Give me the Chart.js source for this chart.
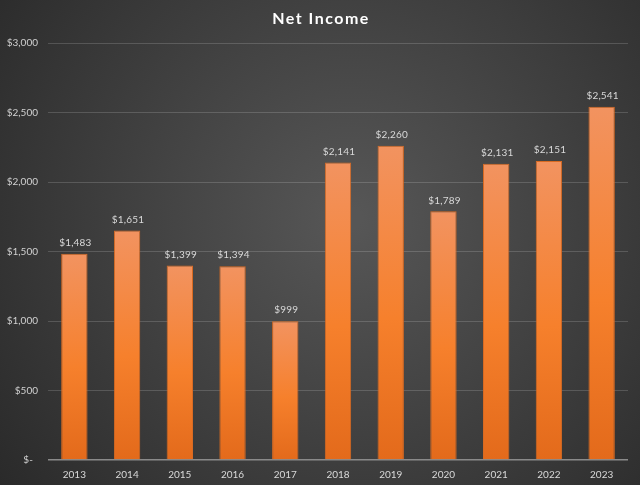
<!DOCTYPE html>
<html>
<head>
<meta charset="utf-8">
<script src="https://cdn.jsdelivr.net/npm/chart.js@4"></script>
<style>
  html, body { margin: 0; padding: 0; background: #333; }
  #wrap { width: 640px; height: 485px; }
</style>
</head>
<body>
<div id="wrap"><canvas id="netIncome"></canvas></div>
<script>
// data
var years = ['2013', '2014', '2015', '2016', '2017', '2018', '2019', '2020', '2021', '2022', '2023'];
var netIncome = [1483, 1651, 1399, 1394, 999, 2141, 2260, 1789, 2131, 2151, 2541];
var yTicks = [0, 500, 1000, 1500, 2000, 2500, 3000];

function money(v) {
    if (v === 0) return '$-  ';
    return '$' + v.toLocaleString('en-US');
}

// dark radial backdrop behind everything
var backdrop = {
    id: 'backdrop',
    beforeDraw: function(chart) {
        var ctx = chart.ctx, w = chart.width, h = chart.height;
        var g = ctx.createRadialGradient(w * 0.55, h * 0.45, 10, w * 0.55, h * 0.45, w * 0.75);
        g.addColorStop(0, '#565656');
        g.addColorStop(1, '#262626');
        ctx.save();
        ctx.fillStyle = g;
        ctx.fillRect(0, 0, w, h);
        ctx.restore();
    }
};

// title + value labels on top of bars
var labels = {
    id: 'labels',
    afterDatasetsDraw: function(chart) {
        var ctx = chart.ctx;
        ctx.save();
        ctx.fillStyle = '#ffffff';
        ctx.font = 'bold 16px Lato, "Open Sans", sans-serif';
        ctx.textAlign = 'center';
        ctx.textBaseline = 'middle';
        if ('letterSpacing' in ctx) ctx.letterSpacing = '1.5px';
        ctx.fillText('Net Income', chart.width / 2 + 1, 19);
        if ('letterSpacing' in ctx) ctx.letterSpacing = '0.2px';

        ctx.fillStyle = '#d9d9d9';
        ctx.font = '10px Lato, "Open Sans", sans-serif';
        ctx.textBaseline = 'bottom';
        chart.getDatasetMeta(0).data.forEach(function(bar, i) {
            ctx.fillText(money(netIncome[i]), bar.x + 1, bar.y - 6);
        });
        ctx.restore();
    }
};

function barFill(context) {
    var chart = context.chart;
    var y = chart.scales.y;
    if (!y || context.dataIndex === undefined) return '#f47b20';
    var top = y.getPixelForValue(netIncome[context.dataIndex]);
    var base = y.getPixelForValue(0);
    if (!isFinite(top) || !isFinite(base) || top === base) return '#f47b20';
    var g = chart.ctx.createLinearGradient(0, top, 0, base);
    g.addColorStop(0, '#f29360');
    g.addColorStop(0.55, '#f6802c');
    g.addColorStop(1, '#e36a1b');
    return g;
}

new Chart(document.getElementById('netIncome'), {
    type: 'bar',
    data: {
        labels: years,
        datasets: [{
            data: netIncome,
            backgroundColor: barFill,
            borderColor: '#d86a22',
            borderWidth: 1,
            categoryPercentage: 1,
            barPercentage: 0.5
        }]
    },
    options: {
        responsive: true,
        maintainAspectRatio: false,
        animation: false,
        layout: { padding: { top: 43, right: 12, left: 0, bottom: 0 } },
        plugins: {
            legend: { display: false },
            title: { display: false },
            tooltip: { enabled: false }
        },
        scales: {
            x: {
                grid: { display: false },
                border: { display: false },
                ticks: {
                    color: '#d9d9d9',
                    font: { family: 'Lato, "Open Sans", sans-serif', size: 10 },
                    padding: 1,
                    maxRotation: 0
                },
                afterFit: function(scale) { scale.height = 25; }
            },
            y: {
                min: 0,
                max: 3000,
                afterBuildTicks: function(scale) {
                    scale.ticks = yTicks.map(function(v) { return { value: v }; });
                },
                grid: {
                    color: function(c) { return c.index === 0 ? '#8a8a8a' : 'rgba(255,255,255,0.16)'; },
                    lineWidth: function(c) { return c.index === 0 ? 1.5 : 1; },
                    drawTicks: false
                },
                border: { display: false },
                ticks: {
                    color: '#d0d0d0',
                    font: { family: 'Lato, "Open Sans", sans-serif', size: 10 },
                    padding: 10,
                    callback: function(v) { return money(v); }
                },
                afterFit: function(scale) { scale.width = 48; }
            }
        }
    },
    plugins: [backdrop, labels]
});
</script>
</body>
</html>
